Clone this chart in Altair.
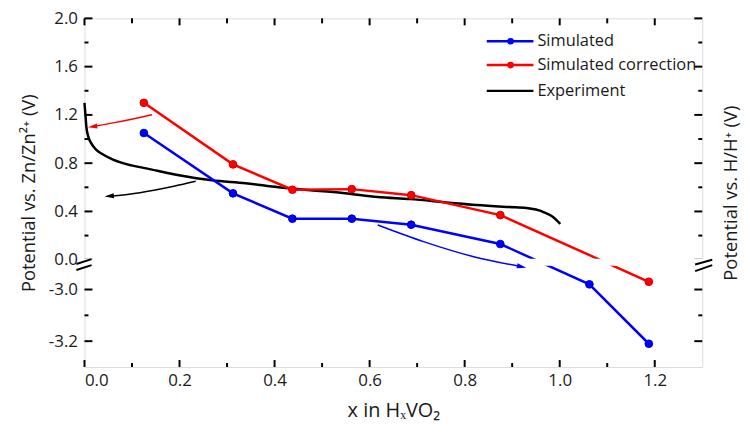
import altair as alt
import pandas as pd

# ---------------- data ----------------
x_sim = [0.125, 0.3125, 0.4375, 0.5625, 0.6875, 0.875, 1.0625, 1.1875]
v_sim = [1.05, 0.55, 0.34, 0.34, 0.29, 0.13, -2.98, -3.21]

x_corr = [0.125, 0.3125, 0.4375, 0.5625, 0.6875, 0.875, 1.1875]
v_corr = [1.30, 0.79, 0.58, 0.585, 0.535, 0.37, -2.97]

x_exp = [0.000, 0.002, 0.004, 0.008, 0.015, 0.025, 0.040, 0.060, 0.090, 0.130,
         0.199, 0.268, 0.339, 0.408, 0.476, 0.548, 0.617, 0.685, 0.757, 0.825,
         0.894, 0.930, 0.966, 0.986, 0.997, 1.001]
v_exp = [1.30, 1.20, 1.10, 1.02, 0.96, 0.91, 0.87, 0.83, 0.79, 0.757,
         0.700, 0.658, 0.634, 0.601, 0.576, 0.551, 0.519, 0.502, 0.477, 0.453,
         0.436, 0.428, 0.395, 0.354, 0.313, 0.296]

# annotation arrows (upper-scale units)
arrow_red_x = [0.017, 0.063, 0.104, 0.142]
arrow_red_v = [1.103, 1.136, 1.169, 1.202]
arrow_black_x = [0.052, 0.094, 0.146, 0.188, 0.234]
arrow_black_v = [0.527, 0.543, 0.576, 0.609, 0.650]
arrow_blue_x = [0.617, 0.715, 0.819, 0.920]
arrow_blue_v = [0.288, 0.148, 0.025, -0.058]

# axis break
band_x = [-0.008, 1.308]
band_v = [0.008, -0.049]
slash_x1 = [-0.017, -0.017, 1.285, 1.285]
slash_x2 = [0.015, 0.015, 1.321, 1.321]
slash_v1 = [-0.035, -0.085, -0.040, -0.095]
slash_v2 = [0.005, -0.045, 0.000, -0.045]

# ticks
y_major = [2.0, 1.6, 1.2, 0.8, 0.4, 0.0, -3.0, -3.2]
y_minor = [1.8, 1.4, 1.0, 0.6, 0.2, -3.1]
x_major = [0.0, 0.2, 0.4, 0.6, 0.8, 1.0, 1.2]
x_minor = [0.1, 0.3, 0.5, 0.7, 0.9, 1.1]

legend_labels = ["Simulated", "Simulated correction", "Experiment"]
legend_colors = ["#0000FF", "#FF0000", "#000000"]

# ---------------- broken-axis mapping ----------------
W, H = 622, 351
D_MIN = -0.889
K = 2.14
D30 = -0.247
EXPR = f"datum.v >= -1 ? datum.v : {D30} + (datum.v + 3.0) * {K}"


def to_d(v):
    return v if v >= -1 else D30 + (v + 3.0) * K


LABEL_EXPR = (f"datum.value >= -0.1 ? format(datum.value, '.1f') : "
              f"'-' + format(3.0 - (datum.value - ({D30})) / {K}, '.1f')")

xs = alt.Scale(domain=[0, 1.3], nice=False, zero=False)
ys = alt.Scale(domain=[D_MIN, 2.0], nice=False, zero=False)


def X(field="x", axis=None):
    return alt.X(f"{field}:Q", scale=xs, axis=axis)


def Y(field="d", axis=None):
    return alt.Y(f"{field}:Q", scale=ys, axis=axis)


def frame(x, v):
    return alt.Chart(pd.DataFrame({"x": x, "v": v})).transform_calculate(d=EXPR)


sim = frame(x_sim, v_sim)
corr = frame(x_corr, v_corr)
exp_ = frame(x_exp, v_exp)

layers = []

# axis holder layers (labels + titles)
holder = frame([0.5], [1.0])
ax_left = alt.Axis(orient="left", values=[to_d(v) for v in y_major], labelExpr=LABEL_EXPR,
                   ticks=False, tickSize=0, domain=False, grid=False, labelFontSize=17,
                   labelPadding=7, labelColor="#1a1a1a",
                   title="Potential vs. Zn/Zn²⁺ (V)", titleFontSize=18.5, titleFontWeight="normal",
                   titleX=-56, titleY=H / 2, titleAngle=270, titleAlign="center",
                   titleBaseline="middle", titleColor="#1a1a1a", zindex=0)
ax_bottom = alt.Axis(orient="bottom", values=x_major, format=".1f", ticks=False, tickSize=0,
                     domain=False, grid=False, labelFontSize=17, labelPadding=6,
                     labelColor="#1a1a1a", title="x in HₓVO₂", titleFontSize=20,
                     titleFontWeight="normal", titleX=W / 2, titleY=44, titleAlign="center",
                     titleBaseline="middle", titleColor="#1a1a1a", zindex=0)
layers.append(holder.mark_point(opacity=0).encode(x=X(axis=ax_bottom), y=Y(axis=ax_left)))
ax_right = alt.Axis(orient="right", labels=False, ticks=False, domain=False, grid=False,
                    title="Potential vs. H/H⁺ (V)", titleFontSize=18.5, titleFontWeight="normal",
                    titleX=28, titleY=H / 2, titleAngle=270, titleAlign="center",
                    titleBaseline="middle", titleColor="#1a1a1a", zindex=0)
layers.append(holder.mark_point(opacity=0).encode(x=X(), y=Y(axis=ax_right)))

# inward ticks drawn as rules at tick positions
ymaj = frame([0] * len(y_major), y_major)
ymin = frame([0] * len(y_minor), y_minor)
xmaj = alt.Chart(pd.DataFrame({"x": x_major}))
xmin = alt.Chart(pd.DataFrame({"x": x_minor}))
for src, a, b in [(ymaj, 0, 8), (ymin, 0, 4), (ymaj, W - 8, W), (ymin, W - 4, W)]:
    layers.append(src.mark_rule(color="black", strokeWidth=2).encode(
        y=Y(), x=alt.value(a), x2=alt.value(b)))
for src, a, b in [(xmaj, H, H - 7), (xmin, H, H - 4), (xmaj, 0, 7), (xmin, 0, 5)]:
    layers.append(src.mark_rule(color="black", strokeWidth=2).encode(
        x=X(), y=alt.value(a), y2=alt.value(b)))

# data lines
layers.append(exp_.mark_line(color="#000000", strokeWidth=2.5, interpolate="monotone")
              .encode(x=X(), y=Y()))
layers.append(corr.mark_line(color="#FF0000", strokeWidth=2.5).encode(x=X(), y=Y()))
layers.append(sim.mark_line(color="#0000FF", strokeWidth=2.5).encode(x=X(), y=Y()))

# axis break band
band = pd.DataFrame({"x": [band_x[0]], "x2": [band_x[1]], "d": [band_v[0]], "d2": [band_v[1]]})
layers.append(alt.Chart(band).mark_rect(color="white").encode(
    x=X("x"), x2="x2", y=Y("d"), y2="d2"))

# points
layers.append(corr.mark_point(filled=True, size=60, color="#FF0000", opacity=1,
                              stroke="#D00000", strokeWidth=1).encode(x=X(), y=Y()))
layers.append(sim.mark_point(filled=True, size=60, color="#0000FF", opacity=1,
                             stroke="#0000C0", strokeWidth=1).encode(x=X(), y=Y()))

# arrows
for ax_, av_, col, ang, path, tip in [
    (arrow_red_x, arrow_red_v, "#FF0000", 352, "M-1,0L1,-0.55L1,0.55Z", 0),
    (arrow_black_x, arrow_black_v, "#000000", 355, "M-1,0L1,-0.55L1,0.55Z", 0),
    (arrow_blue_x, arrow_blue_v, "#0000FF", 12, "M1,0L-1,-0.55L-1,0.55Z", -1),
]:
    fr = frame(ax_, av_)
    layers.append(fr.mark_line(color=col, strokeWidth=1.5, interpolate="monotone")
                  .encode(x=X(), y=Y()))
    head = frame([ax_[tip]], [av_[tip]])
    layers.append(head.mark_point(shape=path, filled=True, size=90, color=col, opacity=1,
                                  angle=ang).encode(x=X(), y=Y()))

# break slashes
sl = pd.DataFrame({"x": slash_x1, "x2": slash_x2, "d": slash_v1, "d2": slash_v2})
layers.append(alt.Chart(sl).mark_rule(color="black", strokeWidth=2).encode(
    x=X("x"), x2="x2", y=Y("d"), y2="d2"))

# legend
leg_x0, leg_x1, leg_c, leg_t = 405, 452, 429, 456
leg_y = [23, 47, 73]
for i, (lab, col) in enumerate(zip(legend_labels, legend_colors)):
    one = alt.Chart(pd.DataFrame({"label": [lab]}))
    layers.append(one.mark_rule(color=col, strokeWidth=2.5).encode(
        x=alt.value(leg_x0), x2=alt.value(leg_x1), y=alt.value(leg_y[i])))
    if i < 2:
        layers.append(one.mark_point(filled=True, size=45, color=col, opacity=1).encode(
            x=alt.value(leg_c), y=alt.value(leg_y[i])))
    layers.append(one.mark_text(align="left", baseline="middle", fontSize=16.5,
                                color="#1a1a1a").encode(
        x=alt.value(leg_t), y=alt.value(leg_y[i]), text="label:N"))

chart = alt.layer(*layers).resolve_axis(x="independent", y="independent").properties(
    width=W, height=H,
    autosize=alt.AutoSizeParams(type="none"),
    padding={"left": 77, "top": 9, "right": 40, "bottom": 62},
    background="white",
).configure_view(stroke="black", strokeWidth=2).configure(font="Open Sans")

chart.save("out.html", embed_options={"renderer": "svg", "actions": False})
